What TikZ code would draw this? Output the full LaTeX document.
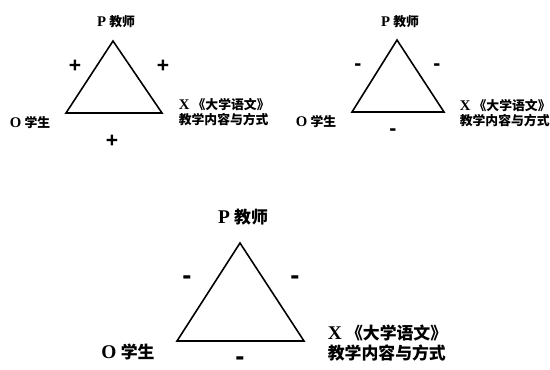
\documentclass[tikz,border=0pt]{standalone}
\usepackage{fontspec}
\setmainfont{Liberation Serif}
\newfontfamily\cjk{Noto Sans CJK SC}
\newfontfamily\signfont{Liberation Sans}
\usetikzlibrary{positioning}
\newcommand\ltr[1]{\scalebox{1.15}{#1}}
\tikzset{every path/.style={black,line width=0.9pt}, side/.style={font=\signfont\bfseries\fontsize{12}{12}\selectfont, inner sep=0pt},
 small/.style={font=\bfseries\fontsize{7.3}{8.6}\selectfont, inner sep=0pt, align=left},
 large/.style={font=\bfseries\fontsize{9.6}{11.3}\selectfont, inner sep=0pt, align=left}}

\begin{document}
\begin{tikzpicture}[x=0.02cm,y=-0.02cm]
   \useasboundingbox (0,0) rectangle (550,369);
   \begin{scope}
    \coordinate (p) at (113, 41);
    \coordinate (o) at ( 66,113);
    \coordinate (x) at (162,113);
    \draw (p) -- (o) -- (x) -- cycle;
    \node[small] (tp) at (116, 22) {\ltr{P} {\cjk 教师}};
    \node[small] (to) at ( 30,123) {\ltr{O} {\cjk 学生}};
    \node[small,anchor=west] (tx) at (178,112) {\ltr{X} {\cjk 《大学语文》}\\{\cjk 教学内容与方式}};
    \node[side] (sl) at ( 75, 66) {+};
    \node[side] (sr) at (163, 66) {+};
    \node[side] (sb) at (112,141) {+};
   \end{scope}
   \begin{scope}
    \coordinate (p) at (397, 40);
    \coordinate (o) at (352,112);
    \coordinate (x) at (444,112);
    \draw (p) -- (o) -- (x) -- cycle;
    \node[small] (tp) at (400, 22) {\ltr{P} {\cjk 教师}};
    \node[small] (to) at (316,122) {\ltr{O} {\cjk 学生}};
    \node[small,anchor=west] (tx) at (459,113) {\ltr{X} {\cjk 《大学语文》}\\{\cjk 教学内容与方式}};
    \node[side] (sl) at (358, 67) {-};
    \node[side] (sr) at (437, 67) {-};
    \node[side] (sb) at (393,132) {-};
   \end{scope}
   \begin{scope}
    \coordinate (p) at (240,243);
    \coordinate (o) at (177,341);
    \coordinate (x) at (304,341);
    \draw (p) -- (o) -- (x) -- cycle;
    \node[large] (tp) at (243,217) {\ltr{P} {\cjk 教师}};
    \node[large] (to) at (128,352) {\ltr{O} {\cjk 学生}};
    \node[large,anchor=west] (tx) at (327,343) {\ltr{X} {\cjk 《大学语文》}\\{\cjk 教学内容与方式}};
    \node[side,scale=1.3] (sl) at (187,280) {-};
    \node[side,scale=1.3] (sr) at (295,280) {-};
    \node[side,scale=1.3] (sb) at (240,361) {-};
   \end{scope}
\end{tikzpicture}
\end{document}
